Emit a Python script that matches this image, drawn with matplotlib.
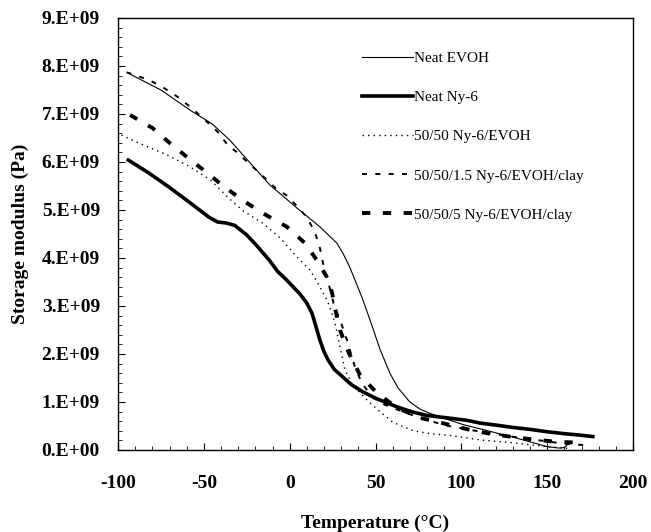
import matplotlib.pyplot as plt
from matplotlib.ticker import MultipleLocator

plt.rcParams['font.family'] = ['Liberation Serif', 'DejaVu Serif']
plt.rcParams['lines.scale_dashes'] = False
plt.rcParams['axes.unicode_minus'] = False

# Storage modulus data (temperature in C, modulus in 1e9 Pa)
evoh_t = [-94, -75, -58, -45, -35, -23, -11.5, 4.3, 17.6, 27.5, 31, 35, 38.5, 42,
          46.8, 52.6, 58.4, 63, 70, 76, 82, 90, 101, 111, 121, 131, 140, 150, 157, 160, 162]
evoh_e = [7.85, 7.5, 7.08, 6.79, 6.46, 5.98, 5.52, 5.04, 4.65, 4.31, 4.1, 3.81, 3.5, 3.19,
          2.71, 2.1, 1.6, 1.3, 1.0, 0.85, 0.76, 0.66, 0.53, 0.44, 0.35, 0.26, 0.17, 0.07, 0.04, 0.05, 0.12]

ny6_t = [-94, -82, -70, -58, -47, -42, -37, -32, -25, -19, -12, -7, -2, 2, 6, 10, 13,
         15.5, 17.6, 20, 22.3, 26, 31, 36, 42.7, 50, 56.7, 64, 71.8, 80, 91.6, 103, 111,
         120, 130, 140, 150, 160, 169, 176.6]
ny6_e = [6.04, 5.77, 5.47, 5.15, 4.85, 4.75, 4.73, 4.68, 4.48, 4.25, 3.96, 3.72, 3.55, 3.4,
         3.25, 3.06, 2.85, 2.55, 2.29, 2.05, 1.88, 1.68, 1.52, 1.36, 1.21, 1.08, 0.98, 0.88,
         0.79, 0.72, 0.67, 0.62, 0.56, 0.52, 0.47, 0.43, 0.38, 0.34, 0.31, 0.28]

blend_t = [-98, -85, -71.5, -58, -46, -35, -27, -15.5, -5.6, 4.3, 11.8, 14.7, 17.6, 22.3,
           26.4, 29.3, 32.2, 36, 41, 46.8, 52.6, 60, 72, 82, 92, 111, 130, 150, 163]
blend_e = [6.56, 6.35, 6.15, 5.9, 5.62, 5.23, 4.98, 4.72, 4.42, 4.02, 3.75, 3.58, 3.4, 3.08,
           2.65, 2.15, 1.67, 1.4, 1.19, 0.98, 0.8, 0.58, 0.4, 0.34, 0.31, 0.21, 0.15, 0.07, 0.03]

clay15_t = [-95, -82, -74, -65, -58, -50, -42, -36, -31, -20, -8, -1.6, 4.8, 10, 14.7,
            17.6, 19.4, 21.7, 26, 30.4, 33.4, 38, 42, 48, 55, 62, 75, 90, 105, 120, 135,
            150, 160, 172]
clay15_e = [7.87, 7.71, 7.56, 7.35, 7.15, 6.9, 6.63, 6.35, 6.21, 5.85, 5.45, 5.3, 5.06, 4.85,
            4.54, 4.21, 3.9, 3.6, 3.0, 2.6, 2.29, 1.73, 1.4, 1.1, 0.95, 0.85, 0.68, 0.52,
            0.42, 0.33, 0.25, 0.18, 0.13, 0.1]

clay5_t = [-93, -80, -70, -59, -48, -38, -26, -14, -1.6, 8.9, 16.5, 21.7, 24.6, 26.4, 29.3,
           34.5, 41, 50.8, 62.5, 76, 89, 105, 115, 130, 144, 156, 171]
clay5_e = [6.98, 6.71, 6.4, 6.08, 5.77, 5.48, 5.17, 4.9, 4.65, 4.31, 3.92, 3.6, 3.29, 2.96,
           2.5, 2.02, 1.56, 1.19, 0.88, 0.67, 0.56, 0.42, 0.35, 0.27, 0.21, 0.17, 0.15]

labels = ['Neat EVOH', 'Neat Ny-6', '50/50 Ny-6/EVOH',
          '50/50/1.5 Ny-6/EVOH/clay', '50/50/5 Ny-6/EVOH/clay']

def sci(v):
    return [x * 1e9 for x in v]

fig = plt.figure(figsize=(6.51, 5.32), dpi=100)
ax = fig.add_axes([118 / 651, 1 - 450 / 532, 515 / 651, 432 / 532])

ax.plot(evoh_t, sci(evoh_e), color='black', lw=0.8, label=labels[0])
ax.plot(ny6_t, sci(ny6_e), color='black', lw=2.6, label=labels[1])
ax.plot(blend_t, sci(blend_e), color='black', lw=1.0, linestyle=(0, (1, 3)), label=labels[2])
ax.plot(clay15_t, sci(clay15_e), color='black', lw=1.4, linestyle=(0, (3.6, 6)), label=labels[3])
ax.plot(clay5_t, sci(clay5_e), color='black', lw=2.8, linestyle=(0, (6, 9)), label=labels[4])

ax.set_xlim(-100, 200)
ax.set_ylim(0, 9e9)
ax.xaxis.set_major_locator(MultipleLocator(50))
ax.xaxis.set_minor_locator(MultipleLocator(10))
ax.yaxis.set_major_locator(MultipleLocator(1e9))
ax.yaxis.set_minor_locator(MultipleLocator(0.2e9))

yt = list(range(0, 10))
ax.set_yticks([v * 1e9 for v in yt])
ax.set_yticklabels(['0.E+00'] + [f'{v}.E+09' for v in yt[1:]])

ax.tick_params(which='both', direction='in', labelsize=14)
ax.tick_params(axis='x', which='major', length=5, pad=18)
ax.tick_params(axis='y', which='major', length=5, pad=13)
ax.tick_params(which='minor', length=3)
for lab in ax.get_xticklabels() + ax.get_yticklabels():
    lab.set_fontweight('bold')

for s in ax.spines.values():
    s.set_linewidth(1.0)

ax.set_xlabel('Temperature (°C)', fontsize=14, fontweight='bold', labelpad=16)
ax.set_ylabel('Storage modulus (Pa)', fontsize=14, fontweight='bold', labelpad=9)

ax.legend(loc='upper left', bbox_to_anchor=(0.474, 0.923), frameon=False, fontsize=11,
          handlelength=3.3, handletextpad=0.1, labelspacing=1.67, borderpad=0,
          borderaxespad=0)

fig.savefig('out.png', dpi=100)
